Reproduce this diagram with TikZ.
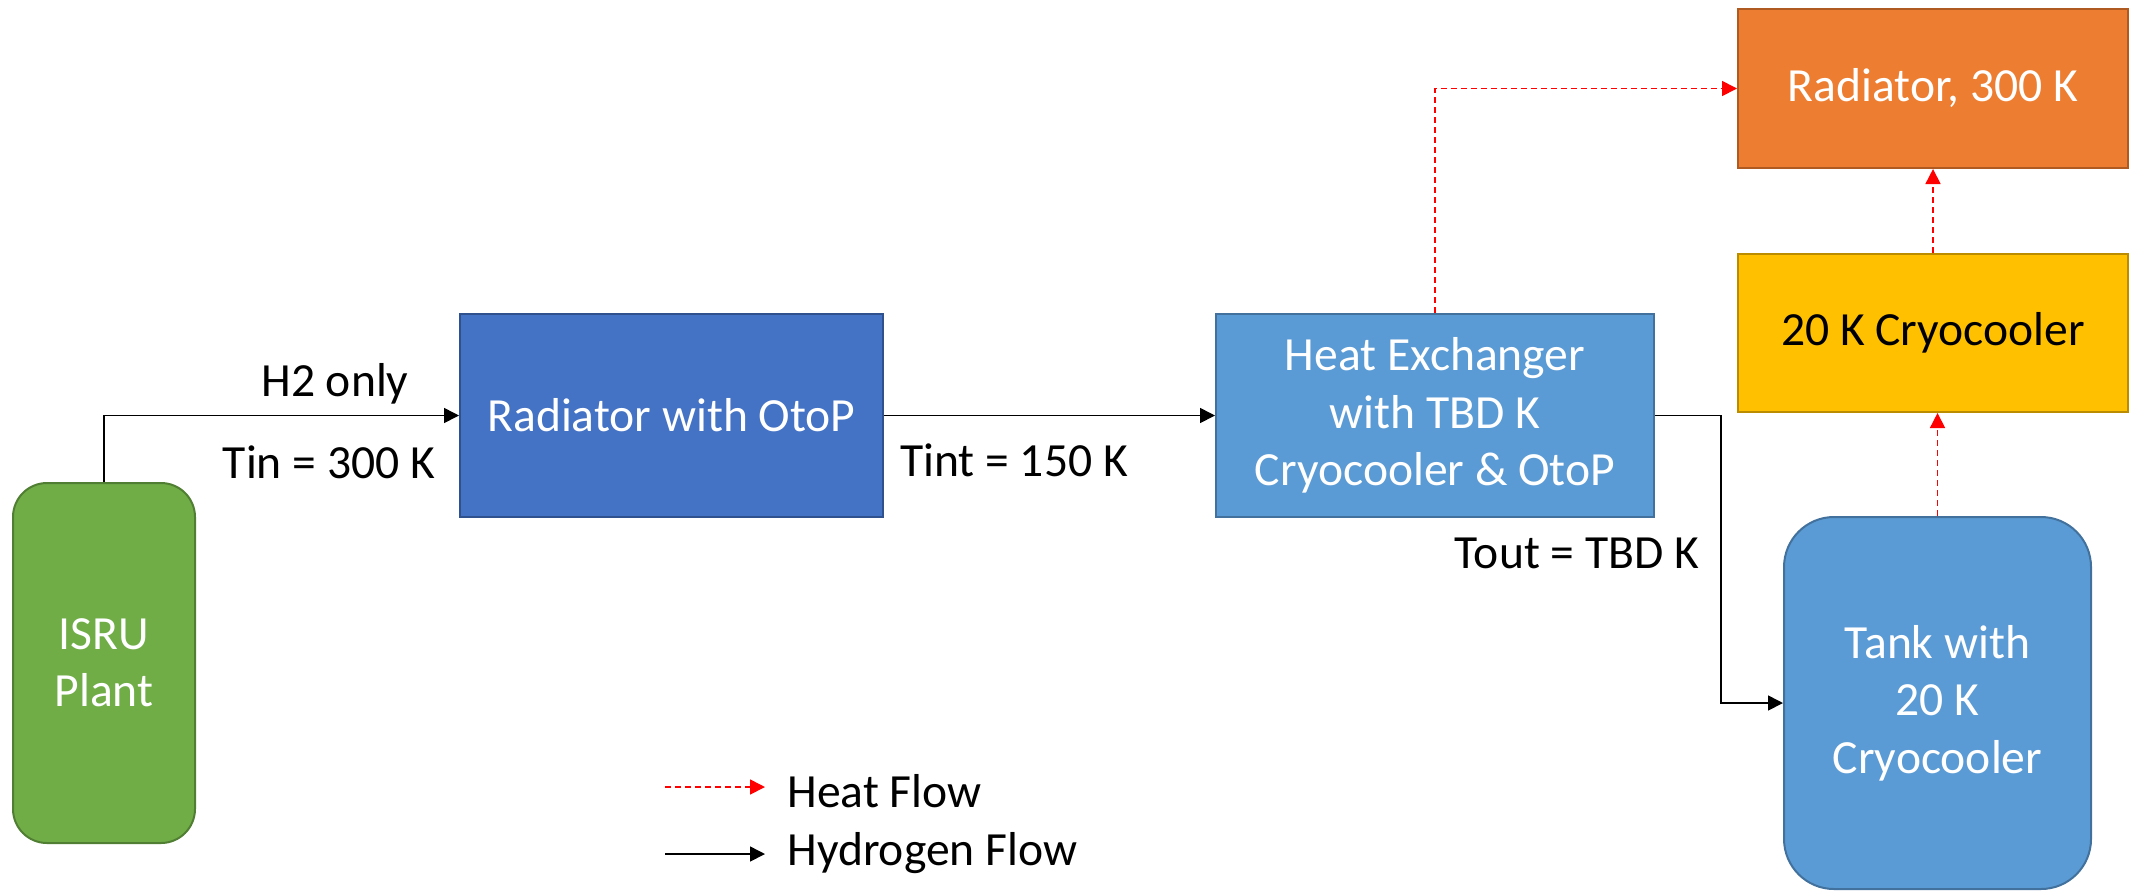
\documentclass[tikz,border=0pt]{standalone}
\usepackage{fontspec}
\setmainfont{Carlito}
\usetikzlibrary{arrows.meta}
\definecolor{cgreen}{HTML}{70AD47}\definecolor{cgreenb}{HTML}{507E32}
\definecolor{cdblue}{HTML}{4472C4}\definecolor{cdblueb}{HTML}{2F528F}
\definecolor{clblue}{HTML}{5B9BD5}\definecolor{clblueb}{HTML}{41719C}
\definecolor{corange}{HTML}{ED7D31}\definecolor{corangeb}{HTML}{AE5A21}
\definecolor{cyellow}{HTML}{FFC000}\definecolor{cyellowb}{HTML}{BC8C00}
\begin{document}
\begin{tikzpicture}[x=0.5pt,y=-0.5pt,
  txt/.style={font=\fontsize{23.8}{28.7}\selectfont, align=center, inner sep=0pt},
  box/.style={txt, draw, line width=1pt, text=white},
  h2flow/.style={draw=black, line width=0.8pt, -{Triangle[length=7.5pt,width=7.5pt]}},
  heatflow/.style={draw=red, line width=0.8pt, dash pattern=on 3pt off 2pt, -{Triangle[length=7.5pt,width=7.5pt]}}]
\useasboundingbox (0,0) rectangle (2129,890);
\node[box, fill=cgreen, draw=cgreenb, rounded corners=17pt, minimum width=91pt, minimum height=180pt] (isru) at (104,663) {ISRU\\Plant};
\node[box, fill=cdblue, draw=cdblueb, minimum width=211.5pt, minimum height=101.5pt] (rad) at (671.5,415.5) {Radiator with OtoP};
\node[box, fill=clblue, draw=clblueb, minimum width=219pt, minimum height=101.5pt] (hx) at (1435,415.5) {Heat Exchanger\\with TBD K\\Cryocooler \& OtoP};
\node[box, fill=corange, draw=corangeb, minimum width=195pt, minimum height=79.5pt] (radh) at (1933,88.5) {Radiator, 300 K};
\node[box, fill=cyellow, draw=cyellowb, text=black, minimum width=195pt, minimum height=79pt] (cryo) at (1933,333) {20 K Cryocooler};
\node[box, fill=clblue, draw=clblueb, rounded corners=25pt, minimum width=153.5pt, minimum height=186pt] (tank) at (1937.5,703) {Tank with\\20 K\\Cryocooler};
\node[txt] (h2only) at (335,384) {H2 only};
\node[txt] (tin) at (329,462) {Tin = 300 K};
\node[txt] (tint) at (1014,460) {Tint = 150 K};
\node[txt] (tout) at (1577,553) {Tout = TBD K};
\draw[h2flow] (isru.north) |- (rad.west);
\draw[h2flow] (rad.east) -- (hx.west);
\draw[h2flow] (hx.east) -- ++(66,0) |- (tank.west);
\draw[heatflow] (hx.north) |- (radh.west);
\draw[heatflow] (cryo.north) -- (radh.south);
\draw[heatflow] (tank.north) -- (tank.north |- cryo.south);
\coordinate (hfa) at (665,787);
\coordinate (hfb) at (765,787);
\coordinate (hya) at (665,854);
\coordinate (hyb) at (765,854);
\draw[heatflow] (hfa) -- (hfb);
\draw[h2flow] (hya) -- (hyb);
\node[txt, anchor=west] (lheat) at (787,791) {Heat Flow};
\node[txt, anchor=west] (lhyd) at (787,853) {Hydrogen Flow};
\end{tikzpicture}
\end{document}
